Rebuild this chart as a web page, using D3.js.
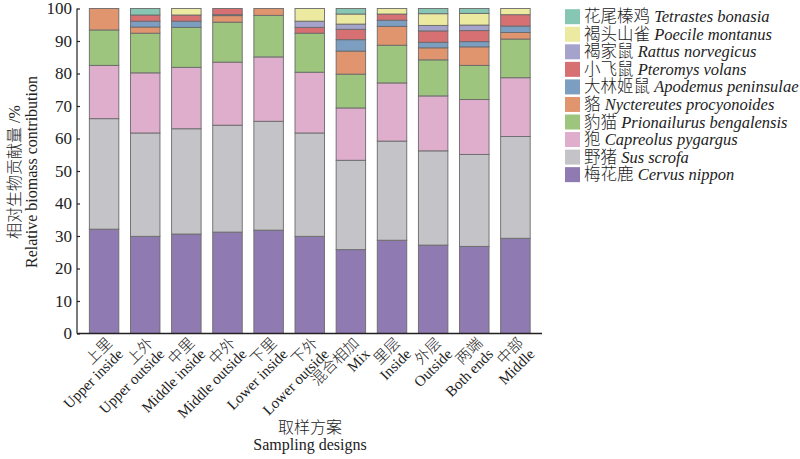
<!DOCTYPE html>
<html><head><meta charset="utf-8">
<script src="https://cdn.jsdelivr.net/npm/d3@7/dist/d3.min.js"></script>
<style>
body{margin:0;background:#fff;}
svg text{font-family:"Liberation Serif","Noto Sans CJK SC",serif;fill:#222;font-weight:300;}
</style></head>
<body><svg id="c" width="800" height="459"></svg>
<script>
const categoriesZh = ["上里","上外","中里","中外","下里","下外","混合相加","里层","外层","两端","中部"];
const categoriesEn = ["Upper inside","Upper outside","Middle inside","Middle outside","Lower inside","Lower outside","Mix","Inside","Outside","Both ends","Middle"];
const speciesZh = ["梅花鹿","野猪","狍","豹猫","貉","大林姬鼠","小飞鼠","褐家鼠","褐头山雀","花尾榛鸡"];
const speciesLatin = ["Cervus nippon","Sus scrofa","Capreolus pygargus","Prionailurus bengalensis","Nyctereutes procyonoides","Apodemus peninsulae","Pteromys volans","Rattus norvegicus","Poecile montanus","Tetrastes bonasia"];
const speciesColors = ["#8f7ab2","#c4c3c8","#dfaecd","#9dc57d","#e0956f","#7b9ec1","#d67073","#a5a3cc","#ece9a1","#86c6b3"];
const cervus    = [32.1,29.9,30.6,31.2,31.8,29.9,25.8,28.7,27.2,26.8,29.3];
const sus       = [34.0,31.8,32.4,32.9,33.5,31.8,27.5,30.5,29.0,28.3,31.3];
const capreolus = [16.4,18.5,18.9,19.4,19.8,18.7,16.1,17.9,16.9,16.9,18.1];
const prion     = [10.9,12.2,12.3,12.3,12.8,12.0,10.4,11.6,11.1,10.5,11.9];
const nyct      = [6.6,1.9,0,2.0,2.1,0,7.1,5.8,3.7,5.7,2.0];
const apod      = [0,1.8,1.9,0.3,0,0,3.5,1.9,1.7,1.6,2.0];
const pter      = [0,1.9,1.9,1.9,0,1.8,3.2,1.9,3.5,3.4,3.5];
const rattus    = [0,0,0,0,0,1.9,1.6,0,1.7,1.7,0];
const poecile   = [0,0,2.0,0,0,3.9,3.1,1.7,3.6,3.6,1.9];
const tetr      = [0,2.0,0,0,0,0,1.7,0,1.6,1.5,0];
const yTicks = [0,10,20,30,40,50,60,70,80,90,100];

const seriesVals = [cervus,sus,capreolus,prion,nyct,apod,pter,rattus,poecile,tetr];
const keys = speciesLatin;
const rows = categoriesEn.map((c,i)=>{const r={cat:c}; keys.forEach((k,j)=>r[k]=seriesVals[j][i]); return r;});
const stack = d3.stack().keys(keys)(rows);

const svg = d3.select("#c");
const x = d3.scaleBand().domain(categoriesEn).range([77,542.5]).paddingInner(0.283).paddingOuter(0.3);
const y = d3.scaleLinear().domain([0,100]).range([333.5,8.5]);

const g = svg.append("g");
stack.forEach((s,j)=>{
  g.selectAll(null).data(s.filter(d=>d[1]-d[0]>0)).enter().append("rect")
    .attr("x",d=>x(d.data.cat)).attr("width",x.bandwidth())
    .attr("y",d=>y(d[1])).attr("height",d=>y(d[0])-y(d[1]))
    .attr("fill",speciesColors[j]).attr("stroke","#6a6a6a").attr("stroke-width",0.9);
});

// y axis
const ya = svg.append("g").attr("transform","translate(77,0)")
  .call(d3.axisLeft(y).tickValues(yTicks).tickSize(-3).tickPadding(5));
ya.select(".domain").attr("stroke","#222").attr("stroke-width",1.2).attr("d","M-0,"+y(0)+"V"+y(100));
ya.selectAll(".tick line").attr("stroke","#222").attr("stroke-width",1.2);
ya.selectAll(".tick text").style("font-size","17px").attr("fill","#222");
// x axis
svg.append("line").attr("x1",77).attr("x2",542).attr("y1",y(0)).attr("y2",y(0)).attr("stroke","#222").attr("stroke-width",1.4);

// x labels
categoriesEn.forEach((c,i)=>{
  const cx = x(c)+x.bandwidth()/2;
  const t = svg.append("text").attr("transform",`translate(${cx+9},${344}) rotate(-45)`)
    .attr("text-anchor","end").style("font-size","15px");
  t.append("tspan").attr("x",0).attr("y",0).text(categoriesZh[i]);
  t.append("tspan").attr("x",0).attr("y",15.5).text(c);
});

// axis titles
svg.append("text").attr("x",310).attr("y",433).attr("text-anchor","middle").style("font-size","16px").text("取样方案");
svg.append("text").attr("x",310).attr("y",450).attr("text-anchor","middle").style("font-size","16px").text("Sampling designs");
const yt = svg.append("text").attr("transform","translate(0,172) rotate(-90)").attr("text-anchor","middle").style("font-size","16px");
yt.append("tspan").attr("x",0).attr("y",20).text("相对生物贡献量 /%");
yt.append("tspan").attr("x",0).attr("y",37).text("Relative biomass contribution");

// legend (top to bottom reversed order)
const leg = svg.append("g");
const order = d3.range(speciesZh.length).reverse();
order.forEach((j,k)=>{
  const yy = 16.7 + k*17.55;
  leg.append("rect").attr("x",565).attr("y",yy-7.5).attr("width",15).attr("height",15).attr("fill",speciesColors[j]);
  const t = leg.append("text").attr("x",584).attr("y",yy+5.5).style("font-size","16.5px");
  t.append("tspan").text(speciesZh[j]+" ");
  t.append("tspan").style("font-style","italic").text(speciesLatin[j]);
});
</script></body></html>
